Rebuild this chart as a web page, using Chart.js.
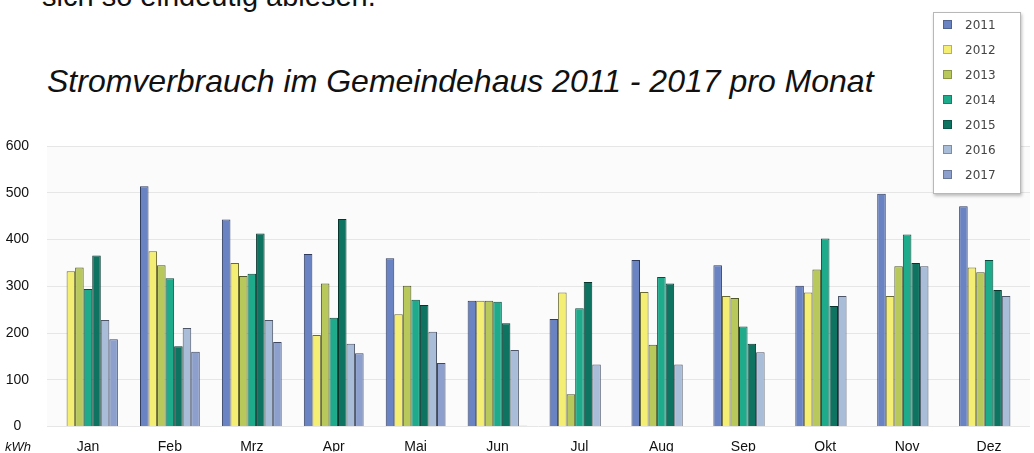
<!DOCTYPE html>
<html>
<head>
<meta charset="utf-8">
<script src="https://cdn.jsdelivr.net/npm/chart.js@4"></script>
<style>
  body { margin: 0; background: #fff; font-family: "Liberation Sans", Arial, sans-serif; }
  #wrap { position: relative; width: 1034px; height: 453px; overflow: hidden; }
  #cut { position: absolute; left: 42px; top: -20px; font-size: 29px; color: #111; white-space: nowrap; }
  #title { position: absolute; left: 47px; top: 63px; font-size: 32px; font-style: italic; color: #111; white-space: nowrap; }
  #unit { position: absolute; left: 5px; top: 439px; font-size: 13px; font-style: italic; color: #111; }
  #legend { position: absolute; left: 933px; top: 12px; width: 86px; height: 180px; border: 1px solid #b8b8b8;
            background: #fff; box-shadow: 1px 2px 3px rgba(0,0,0,0.25); font-family: "DejaVu Sans", sans-serif; }
  .item { position: absolute; left: 9px; font-size: 12px; color: #444; }
  .item span { display: inline-block; width: 7px; height: 7px; margin-right: 13px; border: 1px solid rgba(0,0,0,0.25); vertical-align: 0px; }
  canvas { position: absolute; left: 0; top: 0; }
</style>
</head>
<body>
<div id="wrap">
  <div id="cut">sich so eindeutig ablesen.</div>
  <div id="title">Stromverbrauch im Gemeindehaus 2011 - 2017 pro Monat</div>
  <canvas id="myChart" width="1034" height="453"></canvas>
  <div id="unit">kWh</div>
  <div id="legend"></div>
</div>
<script>
// Monate
const months = ['Jan', 'Feb', 'Mrz', 'Apr', 'Mai', 'Jun', 'Jul', 'Aug', 'Sep', 'Okt', 'Nov', 'Dez'];

// Jahre
const years = ['2011', '2012', '2013', '2014', '2015', '2016', '2017'];

// Verbrauch in kWh pro Jahr
const y2011 = [null, 514, 443, 369, 360, 269, 230, 356, 345, 301, 498, 471];
const y2012 = [332, 375, 350, 196, 240, 269, 287, 288, 279, 287, 279, 340];
const y2013 = [340, 345, 322, 306, 301, 269, 69, 175, 275, 336, 343, 330];
const y2014 = [294, 317, 327, 233, 271, 267, 253, 320, 214, 402, 411, 356];
const y2015 = [366, 172, 413, 444, 260, 221, 309, 306, 177, 258, 350, 292];
const y2016 = [228, 211, 228, 177, 203, 164, 133, 133, 159, 279, 343, 279];
const y2017 = [187, 160, 181, 157, 136, 2, null, null, null, null, null, null];

// Y-Achse
const yTicks = [0, 100, 200, 300, 400, 500, 600];

const values = [y2011, y2012, y2013, y2014, y2015, y2016, y2017];
const colors = ['#6a83c2', '#f4ef74', '#b8c85a', '#1eab8c', '#0e7360', '#a9bcd8', '#8c9fcd'];
const borders = ['#2f3b5c', '#6b6a30', '#4f5628', '#0d4a3d', '#07352c', '#4d5668', '#3f4860'];

// Legende (HTML, oben rechts über dem Diagramm)
const legend = document.getElementById('legend');
years.forEach((y, i) => {
    const d = document.createElement('div');
    d.className = 'item';
    d.style.top = (5 + i * 25) + 'px';
    d.innerHTML = '<span style="background:' + colors[i] + '"></span>' + y;
    legend.appendChild(d);
});

// Hintergrund der Zeichenfläche
const plotBg = {
    id: 'plotBg',
    beforeDraw(chart) {
        const { ctx, chartArea: a } = chart;
        ctx.save();
        ctx.fillStyle = '#fbfbfb';
        ctx.fillRect(a.left, a.top, a.right - a.left, a.bottom - a.top);
        ctx.restore();
    }
};

const ctx = document.getElementById('myChart').getContext('2d');
new Chart(ctx, {
    type: 'bar',
    data: {
        labels: months,
        datasets: years.map((y, i) => ({
            label: y,
            data: values[i],
            backgroundColor: colors[i],
            borderColor: borders[i],
            borderWidth: 1,
            categoryPercentage: 0.73,
            barPercentage: 1.0,
        })),
    },
    options: {
        responsive: false,
        animation: false,
        layout: { padding: { top: 146, right: 4, left: 0, bottom: 0 } },
        plugins: { legend: { display: false }, tooltip: { enabled: false } },
        scales: {
            x: {
                grid: { display: false },
                border: { display: false },
                ticks: { color: '#111', font: { family: 'Liberation Sans', size: 14 }, padding: 4 },
                afterFit(scale) { scale.height = 25; },
            },
            y: {
                min: 0,
                max: 600,
                afterBuildTicks(scale) { scale.ticks = yTicks.map(v => ({ value: v })); },
                grid: { color: '#e6e6e6', drawTicks: false },
                border: { display: false },
                ticks: { color: '#111', font: { family: 'Liberation Sans', size: 14 }, padding: 18, crossAlign: 'center' },
                afterFit(scale) { scale.width = 47; },
            },
        },
    },
    plugins: [plotBg],
});
</script>
</body>
</html>
